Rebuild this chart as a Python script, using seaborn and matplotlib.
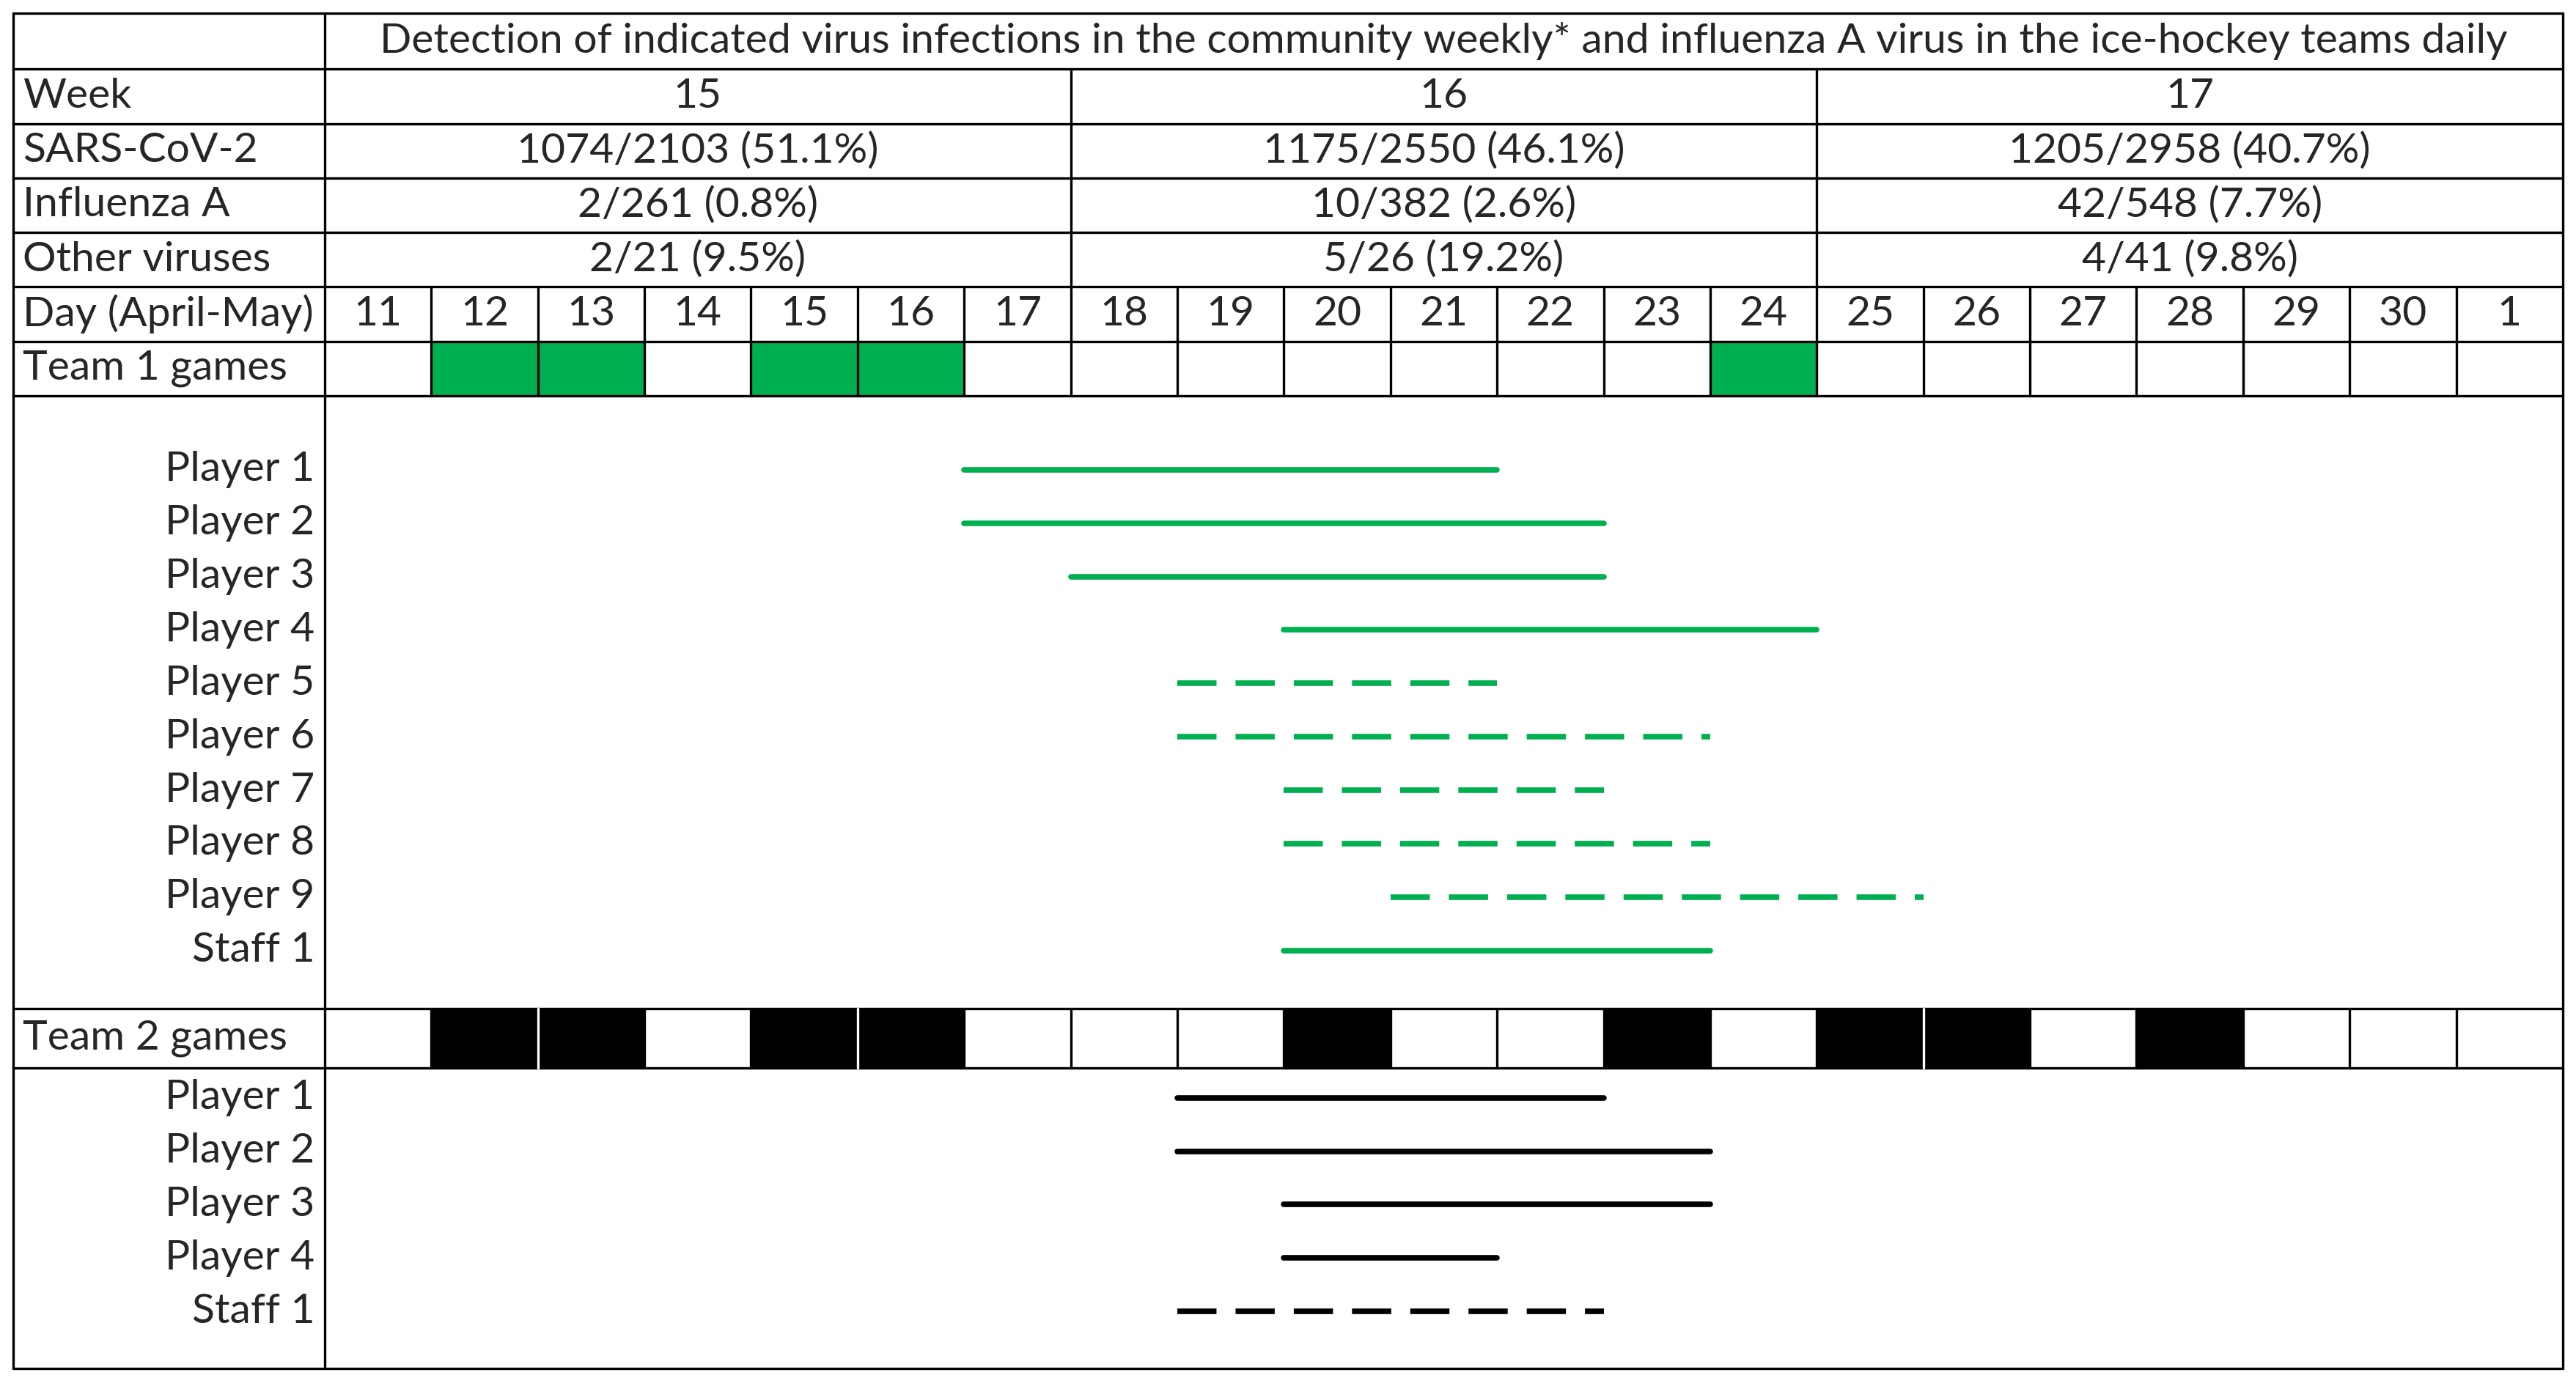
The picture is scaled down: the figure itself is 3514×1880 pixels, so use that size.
import numpy as np
import pandas as pd
import matplotlib
matplotlib.use("Agg")
import matplotlib.pyplot as plt
import seaborn as sns

sns.set_style("white")
plt.rcParams['font.family'] = ['Lato', 'DejaVu Sans']

# data
title = "Detection of indicated virus infections in the community weekly* and influenza A virus in the ice-hockey teams daily"
weeks = ["15", "16", "17"]
sars = ["1074/2103 (51.1%)", "1175/2550 (46.1%)", "1205/2958 (40.7%)"]
flu = ["2/261 (0.8%)", "10/382 (2.6%)", "42/548 (7.7%)"]
other = ["2/21 (9.5%)", "5/26 (19.2%)", "4/41 (9.8%)"]
days = ["11", "12", "13", "14", "15", "16", "17", "18", "19", "20", "21",
        "22", "23", "24", "25", "26", "27", "28", "29", "30", "1"]
team1_games = ["12", "13", "15", "16", "24"]
team2_games = ["12", "13", "15", "16", "20", "23", "25", "26", "28"]

# (name, first day, last day, dashed)
team1 = [("Player 1", "17", "21", False), ("Player 2", "17", "22", False),
         ("Player 3", "18", "22", False), ("Player 4", "20", "24", False),
         ("Player 5", "19", "21", True), ("Player 6", "19", "23", True),
         ("Player 7", "20", "22", True), ("Player 8", "20", "23", True),
         ("Player 9", "21", "25", True), ("Staff 1", "20", "23", False)]
team2 = [("Player 1", "19", "22", False), ("Player 2", "19", "23", False),
         ("Player 3", "20", "23", False), ("Player 4", "20", "21", False),
         ("Staff 1", "19", "22", True)]

# layout (reference pixel units)
W, H = 1563, 836
L, R, T, B = 8, 1555, 8, 830
C0 = 197
dw = (R - C0) / len(days)
def dx(d):
    return C0 + days.index(d) * dw

rows = [8, 42, 75, 108, 141, 174, 207, 240]
t1_y0, t1_dy = 285, 32.4
t2_row = (612, 648)
t2_y0 = 666

fig = plt.figure(figsize=(35.14, 18.80), dpi=100)
ax = fig.add_axes([0, 0, 1, 1])

lw = 2.4
fs = 41
green = "#00B050"

# game cells
for d in team1_games:
    ax.add_patch(plt.Rectangle((dx(d), rows[6]), dw, rows[7] - rows[6], color=green, zorder=1))
for d in team2_games:
    ax.add_patch(plt.Rectangle((dx(d), t2_row[0]), dw, t2_row[1] - t2_row[0], color="black", zorder=1))

# grid
for y in rows + list(t2_row):
    ax.plot([L, R], [y, y], color="black", lw=lw, zorder=2)
ax.plot([L, R], [B, B], color="black", lw=lw, zorder=2)
for x in [L, C0, R]:
    ax.plot([x, x], [T, B], color="black", lw=lw, zorder=2)
for k in (1, 2):
    x = C0 + 7 * k * dw
    ax.plot([x, x], [rows[1], rows[5]], color="black", lw=lw, zorder=2)
for i in range(1, len(days)):
    x = C0 + i * dw
    ax.plot([x, x], [rows[5], rows[7]], color="black", lw=lw, zorder=2)
    both = days[i] in team2_games and days[i - 1] in team2_games
    ax.plot([x, x], list(t2_row), color="white" if both else "black", lw=lw, zorder=2)

# texts
def mid(a, b):
    return (a + b) / 2
ax.text(mid(C0, R), mid(rows[0], rows[1]), title, ha="center", va="center", fontsize=fs)
labels = ["Week", "SARS-CoV-2", "Influenza A", "Other viruses", "Day (April-May)", "Team 1 games"]
for i, lab in enumerate(labels):
    ax.text(L + 6, mid(rows[i + 1], rows[i + 2]), lab, ha="left", va="center", fontsize=fs)
ax.text(L + 6, mid(*t2_row), "Team 2 games", ha="left", va="center", fontsize=fs)
for r, vals in enumerate([weeks, sars, flu, other]):
    for k, v in enumerate(vals):
        ax.text(C0 + (7 * k + 3.5) * dw, mid(rows[r + 1], rows[r + 2]), v,
                ha="center", va="center", fontsize=fs)
for i, d in enumerate(days):
    ax.text(C0 + (i + 0.5) * dw, mid(rows[5], rows[6]), d, ha="center", va="center", fontsize=fs)

# infection periods
recs = []
for team, lst, y0 in [("Team 1", team1, t1_y0), ("Team 2", team2, t2_y0)]:
    for j, (name, a, b, dashed) in enumerate(lst):
        y = y0 + j * t1_dy
        ax.text(C0 - 6, y, name, ha="right", va="center", fontsize=fs)
        uid = f"{team}-{j}"
        kind = "dash" if dashed else "solid"
        recs.append(dict(x=dx(a), y=y, team=team, kind=kind, uid=uid))
        recs.append(dict(x=dx(b) + dw, y=y, team=team, kind=kind, uid=uid))
df = pd.DataFrame(recs)
sns.lineplot(data=df, x="x", y="y", hue="team", style="kind", units="uid", estimator=None,
             palette={"Team 1": green, "Team 2": "black"},
             dashes={"solid": "", "dash": (7, 3.4)}, lw=5.5, sort=False,
             legend=False, ax=ax, zorder=3)
ax.set_xlim(0, W)
ax.set_ylim(H, 0)
ax.axis("off")

fig.savefig("out.png", dpi=100, facecolor="white")
